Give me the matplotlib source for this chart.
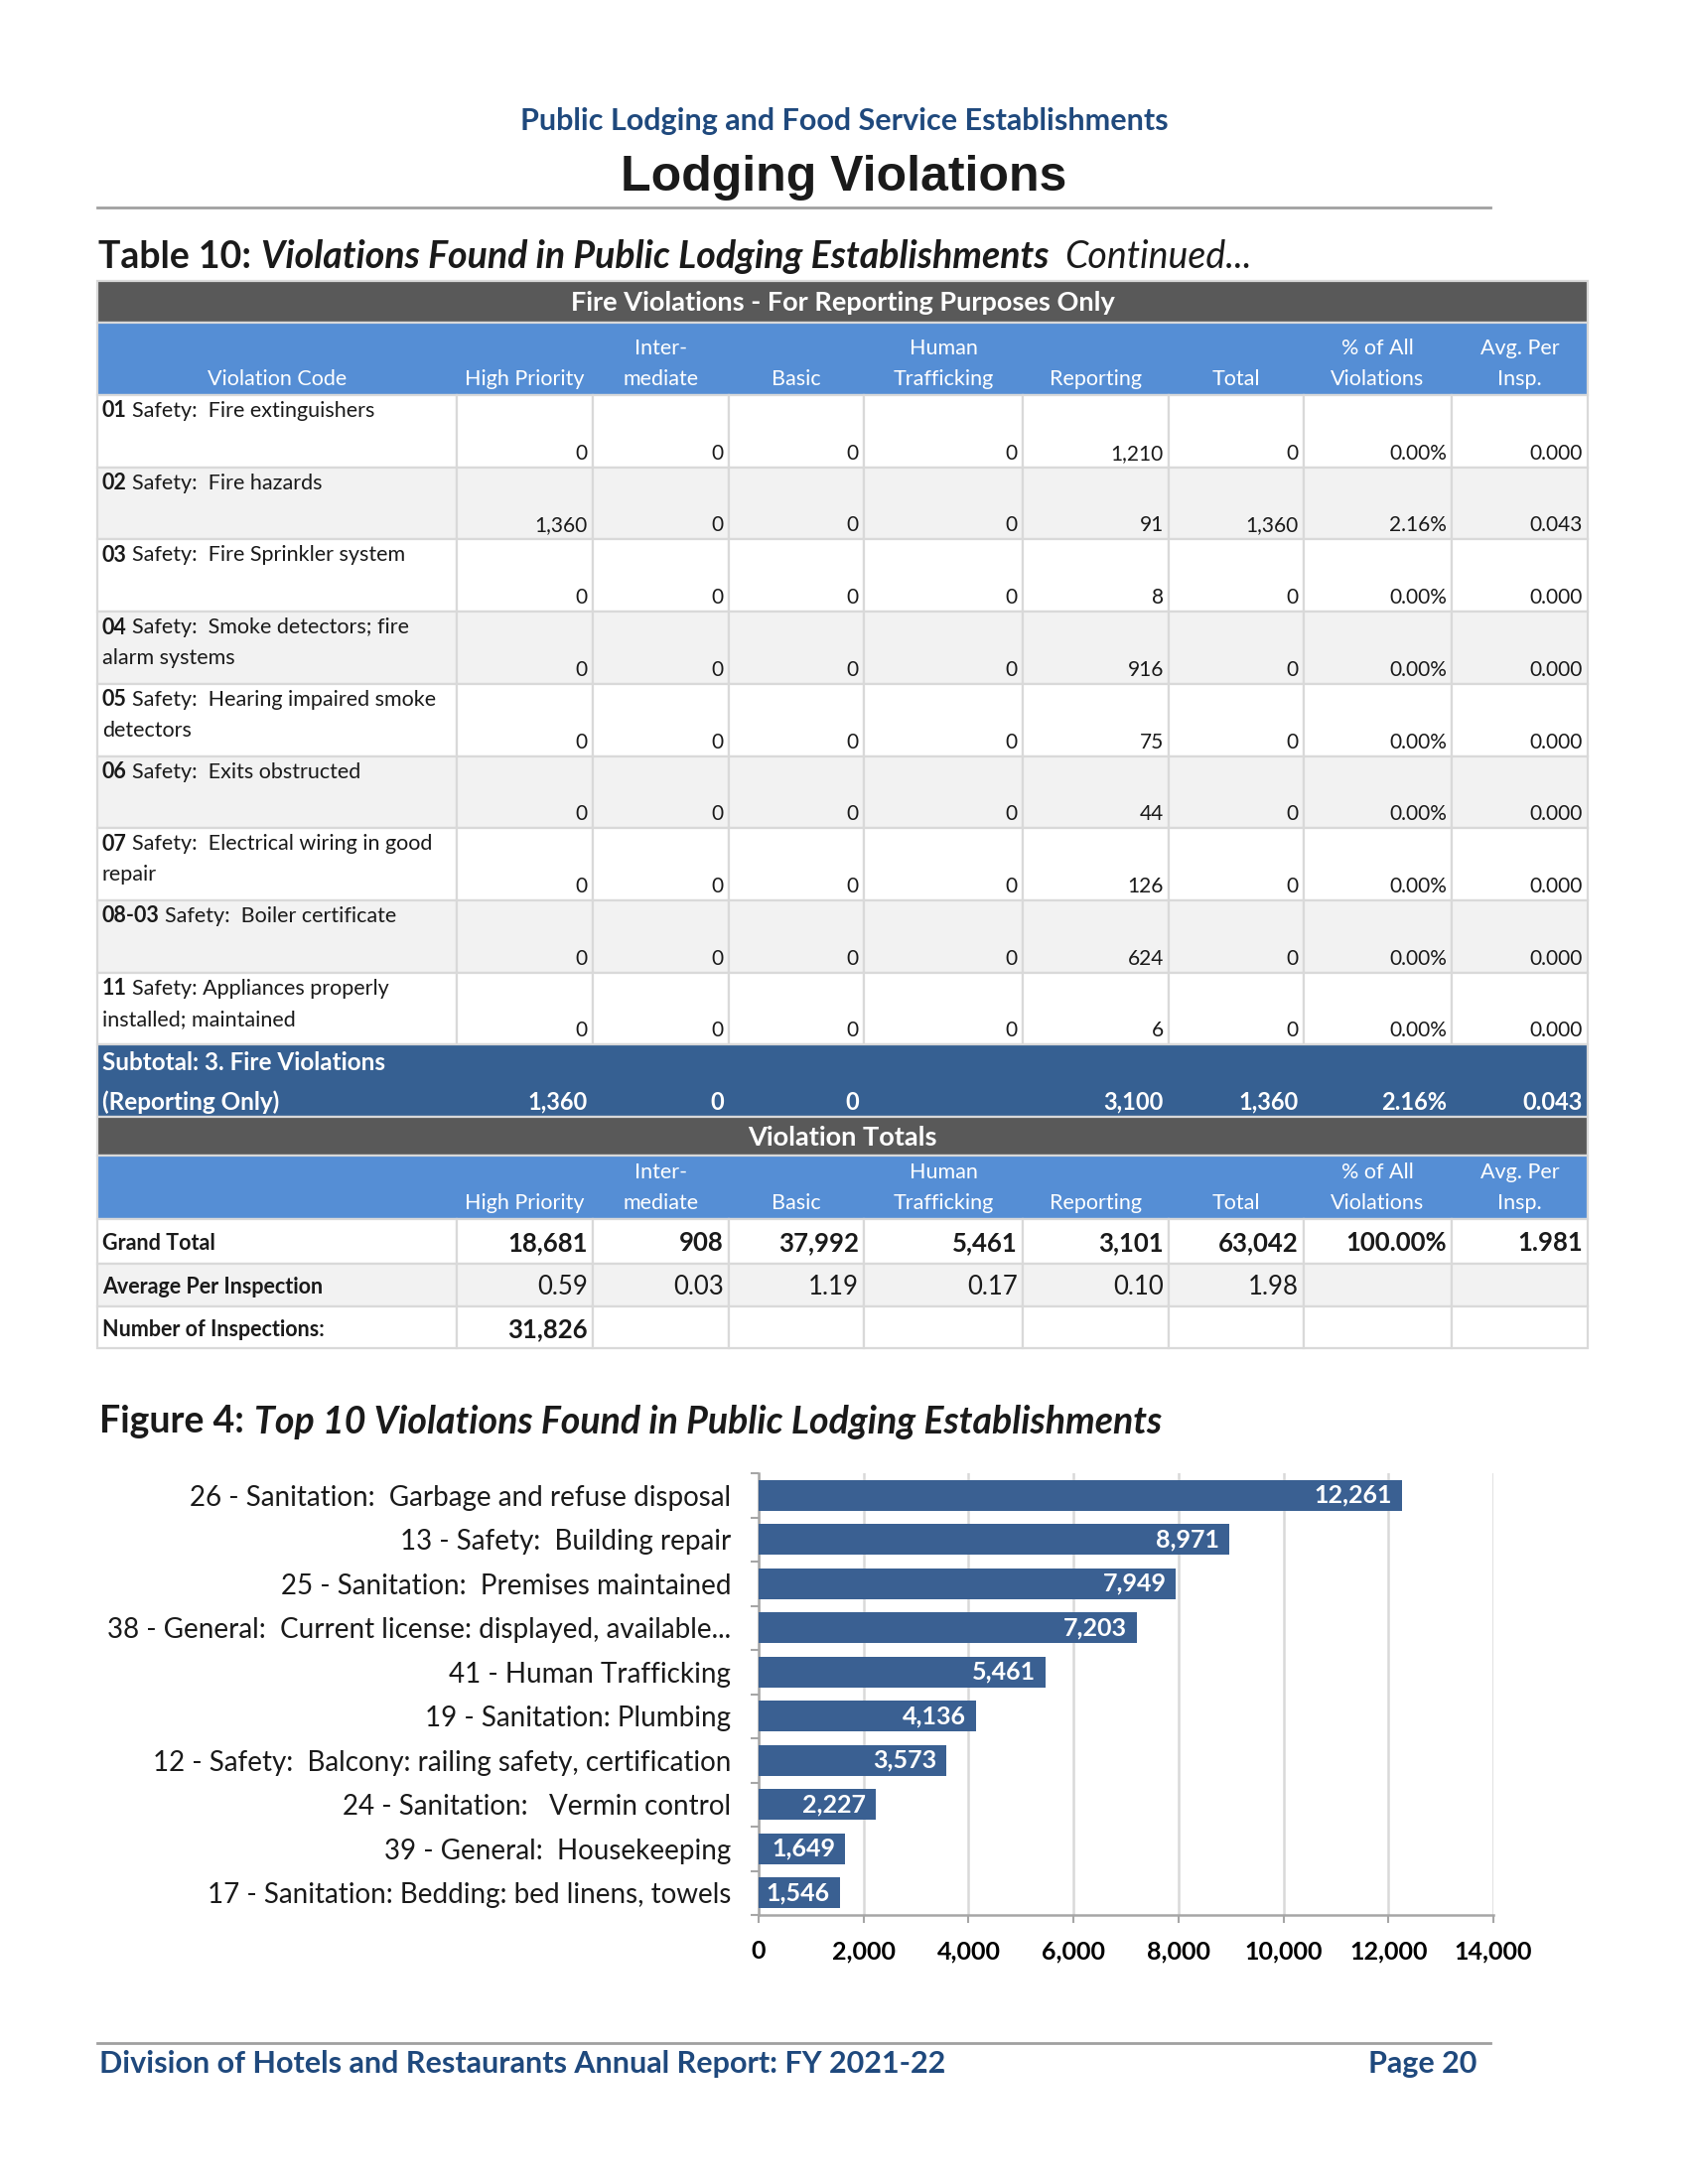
import matplotlib
matplotlib.use("Agg")
import matplotlib.pyplot as plt
from matplotlib.patches import Rectangle
from matplotlib.ticker import FuncFormatter, MultipleLocator, FixedLocator

plt.rcParams["font.family"] = ["Lato", "DejaVu Sans"]

# ---- data ----
col_heads = ["Violation Code", "High Priority", "Inter-\nmediate", "Basic", "Human\nTrafficking",
             "Reporting", "Total", "% of All\nViolations", "Avg. Per\nInsp."]

codes = ["01", "02", "03", "04", "05", "06", "07", "08-03", "11"]
descs = ["Safety:  Fire extinguishers",
         "Safety:  Fire hazards",
         "Safety:  Fire Sprinkler system",
         "Safety:  Smoke detectors; fire\nalarm systems",
         "Safety:  Hearing impaired smoke\ndetectors",
         "Safety:  Exits obstructed",
         "Safety:  Electrical wiring in good\nrepair",
         "Safety:  Boiler certificate",
         "Safety: Appliances properly\ninstalled; maintained"]
high_priority = [0, 1360, 0, 0, 0, 0, 0, 0, 0]
intermediate = [0, 0, 0, 0, 0, 0, 0, 0, 0]
basic = [0, 0, 0, 0, 0, 0, 0, 0, 0]
human_trafficking = [0, 0, 0, 0, 0, 0, 0, 0, 0]
reporting = [1210, 91, 8, 916, 75, 44, 126, 624, 6]
total = [0, 1360, 0, 0, 0, 0, 0, 0, 0]
pct_all = [0.00, 2.16, 0.00, 0.00, 0.00, 0.00, 0.00, 0.00, 0.00]
avg_insp = [0.000, 0.043, 0.000, 0.000, 0.000, 0.000, 0.000, 0.000, 0.000]

subtotal = ["1,360", "0", "0", "", "3,100", "1,360", "2.16%", "0.043"]
grand_total = ["18,681", "908", "37,992", "5,461", "3,101", "63,042", "100.00%", "1.981"]
avg_per_insp = ["0.59", "0.03", "1.19", "0.17", "0.10", "1.98", "", ""]
num_inspections = ["31,826", "", "", "", "", "", "", ""]

top_labels = ["26 - Sanitation:  Garbage and refuse disposal",
              "13 - Safety:  Building repair",
              "25 - Sanitation:  Premises maintained",
              "38 - General:  Current license: displayed, available...",
              "41 - Human Trafficking",
              "19 - Sanitation: Plumbing",
              "12 - Safety:  Balcony: railing safety, certification",
              "24 - Sanitation:   Vermin control",
              "39 - General:  Housekeeping",
              "17 - Sanitation: Bedding: bed linens, towels"]
top_values = [12261, 8971, 7949, 7203, 5461, 4136, 3573, 2227, 1649, 1546]

# ---- colours ----
NAVY = "#1F497D"
DARK = "#595959"
BLUE = "#558ED5"
SUB = "#366092"
BAR = "#3A6092"
GRID = "#D9D9D9"
ALT = "#F2F2F2"

fig = plt.figure(figsize=(17, 22), dpi=100)
page = fig.add_axes([0, 0, 1, 1])
page.set_xlim(0, 1700)
page.set_ylim(2200, 0)
page.axis("off")
rend = fig.canvas.get_renderer()


def runs(x, y, parts, **kw):
    for s, style, gap in parts:
        t = page.text(x, y, s, va="center", **kw, **style)
        x += t.get_window_extent(rend).width + gap


# page header
page.text(850, 122, "Public Lodging and Food Service Establishments", ha="center", va="center",
          fontsize=22, color=NAVY, weight="bold")
page.text(850, 179, "Lodging Violations", ha="center", va="center", fontsize=36,
          color="#1a1a1a", weight="heavy", family="Liberation Sans")
page.plot([98, 1501], [209, 209], color="#A0A0A0", lw=2)

runs(99, 259, [("Table 10:", {"weight": "bold"}, 10),
               ("Violations Found in Public Lodging Establishments", {"weight": "bold", "style": "italic"}, 16),
               ("Continued...", {"style": "italic"}, 0)], fontsize=27, color="#1a1a1a")

cols = [98, 460, 597, 734, 870, 1030, 1177, 1313, 1462, 1599]


def cell(x0, x1, y0, y1, fc):
    page.add_patch(Rectangle((x0, y0), x1 - x0, y1 - y0, facecolor=fc, edgecolor=GRID, lw=1.6))


def band(y0, y1, title):
    page.add_patch(Rectangle((cols[0], y0), cols[-1] - cols[0], y1 - y0, facecolor=DARK,
                             edgecolor=GRID, lw=1.6))
    page.text((cols[0] + cols[-1]) / 2, (y0 + y1) / 2 + 1, title, ha="center", va="center",
              color="white", fontsize=19.5, weight="bold")


def head_row(y0, y1, first):
    page.add_patch(Rectangle((cols[0], y0), cols[-1] - cols[0], y1 - y0, facecolor=BLUE,
                             edgecolor=GRID, lw=1.6))
    for j, h in enumerate(col_heads):
        if j == 0:
            h = first
        lines = h.split("\n")
        cx = (cols[j] + cols[j + 1]) / 2
        for k, ln in enumerate(reversed(lines)):
            page.text(cx, y1 - 16 - 31 * k, ln, ha="center", va="center", color="white",
                      fontsize=15.5)


# fire violations block
band(283, 325, "Fire Violations - For Reporting Purposes Only")
head_row(325, 398, "Violation Code")

rh = 72.7
for i in range(len(codes)):
    y0 = 398 + i * rh
    y1 = y0 + rh
    fc = ALT if i % 2 else "white"
    for j in range(len(cols) - 1):
        cell(cols[j], cols[j + 1], y0, y1, fc)
    dl = descs[i].split("\n")
    runs(103, y0 + 16, [(codes[i], {"weight": "bold"}, 5), (dl[0], {}, 0)], fontsize=15.5, color="#1a1a1a")
    if len(dl) > 1:
        page.text(103, y0 + 47, dl[1], va="center", fontsize=15.5, color="#1a1a1a")
    vals = [f"{high_priority[i]:,}", f"{intermediate[i]:,}", f"{basic[i]:,}",
            f"{human_trafficking[i]:,}", f"{reporting[i]:,}", f"{total[i]:,}",
            f"{pct_all[i]:.2f}%", f"{avg_insp[i]:.3f}"]
    for j, v in enumerate(vals):
        page.text(cols[j + 2] - 5, y1 - 14, v, ha="right", va="center", fontsize=15, color="#1a1a1a")

# subtotal
y0, y1 = 1052, 1125
page.add_patch(Rectangle((cols[0], y0), cols[-1] - cols[0], y1 - y0, facecolor=SUB, edgecolor=GRID, lw=1.6))
page.text(103, y0 + 19, "Subtotal: 3. Fire Violations", va="center", color="white", fontsize=17.5, weight="bold")
page.text(103, y1 - 15, "(Reporting Only)", va="center", color="white", fontsize=17.5, weight="bold")
for j, v in enumerate(subtotal):
    page.text(cols[j + 2] - 5, y1 - 15, v, ha="right", va="center", color="white", fontsize=17, weight="bold")

# violation totals block
band(1125, 1164, "Violation Totals")
head_row(1164, 1228, "")

rows = [("Grand Total", grand_total, "bold", "white"),
        ("Average Per Inspection", avg_per_insp, "normal", ALT),
        ("Number of Inspections:", num_inspections, "bold", "white")]
ys = [1228, 1273, 1316, 1358]
for i, (lab, vals, w, fc) in enumerate(rows):
    y0, y1 = ys[i], ys[i + 1]
    for j in range(len(cols) - 1):
        cell(cols[j], cols[j + 1], y0, y1, fc)
    yc = (y0 + y1) / 2 + 2
    page.text(103, yc, lab, va="center", fontsize=15.5, weight="bold", color="#1a1a1a")
    for j, v in enumerate(vals):
        page.text(cols[j + 2] - 5, yc, v, ha="right", va="center", fontsize=18.5, weight=w, color="#1a1a1a")

# figure title
runs(100, 1432, [("Figure 4:", {"weight": "bold"}, 10),
                 ("Top 10 Violations Found in Public Lodging Establishments", {"weight": "bold", "style": "italic"}, 0)],
     fontsize=27, color="#1a1a1a")

# bar chart
ax = fig.add_axes([764 / 1700, 1 - 1929 / 2200, 740 / 1700, 445 / 2200])
pos = list(range(len(top_values)))
ax.barh(pos, top_values, height=0.7, color=BAR, zorder=3)
for p, v in zip(pos, top_values):
    ax.annotate(f"{v:,}", (v, p), xytext=(-7, 0), textcoords="offset points", ha="right",
                va="center", color="white", fontsize=18, weight="bold", zorder=4)
ax.set_xlim(0, 14000)
ax.set_ylim(len(pos) - 0.5, -0.5)
ax.xaxis.set_major_locator(MultipleLocator(2000))
ax.xaxis.set_major_formatter(FuncFormatter(lambda v, _: f"{v:,.0f}"))
ax.set_yticks(pos)
ax.set_yticklabels(top_labels, fontsize=20, color="#1a1a1a")
ax.yaxis.set_minor_locator(FixedLocator([p - 0.5 for p in pos] + [len(pos) - 0.5]))
ax.tick_params(axis="y", which="major", length=0, pad=20)
ax.tick_params(axis="y", which="minor", length=6, color="#A6A6A6", width=1.5)
ax.tick_params(axis="x", length=6, color="#A6A6A6", width=1.5, pad=12, labelsize=18)
for lbl in ax.get_xticklabels():
    lbl.set_fontweight("bold")
ax.grid(axis="x", color=GRID, lw=1.8, zorder=0)
for s in ["top", "right"]:
    ax.spines[s].set_visible(False)
for s in ["left", "bottom"]:
    ax.spines[s].set_color("#A6A6A6")
    ax.spines[s].set_linewidth(1.8)

# footer
page.plot([98, 1501], [2058, 2058], color="#A0A0A0", lw=2)
page.text(100, 2079, "Division of Hotels and Restaurants Annual Report: FY 2021-22", va="center",
          fontsize=22, weight="bold", color=NAVY)
page.text(1487, 2079, "Page 20", va="center", ha="right", fontsize=22, weight="bold", color=NAVY)

fig.savefig("out.png", dpi=100, facecolor="white")
